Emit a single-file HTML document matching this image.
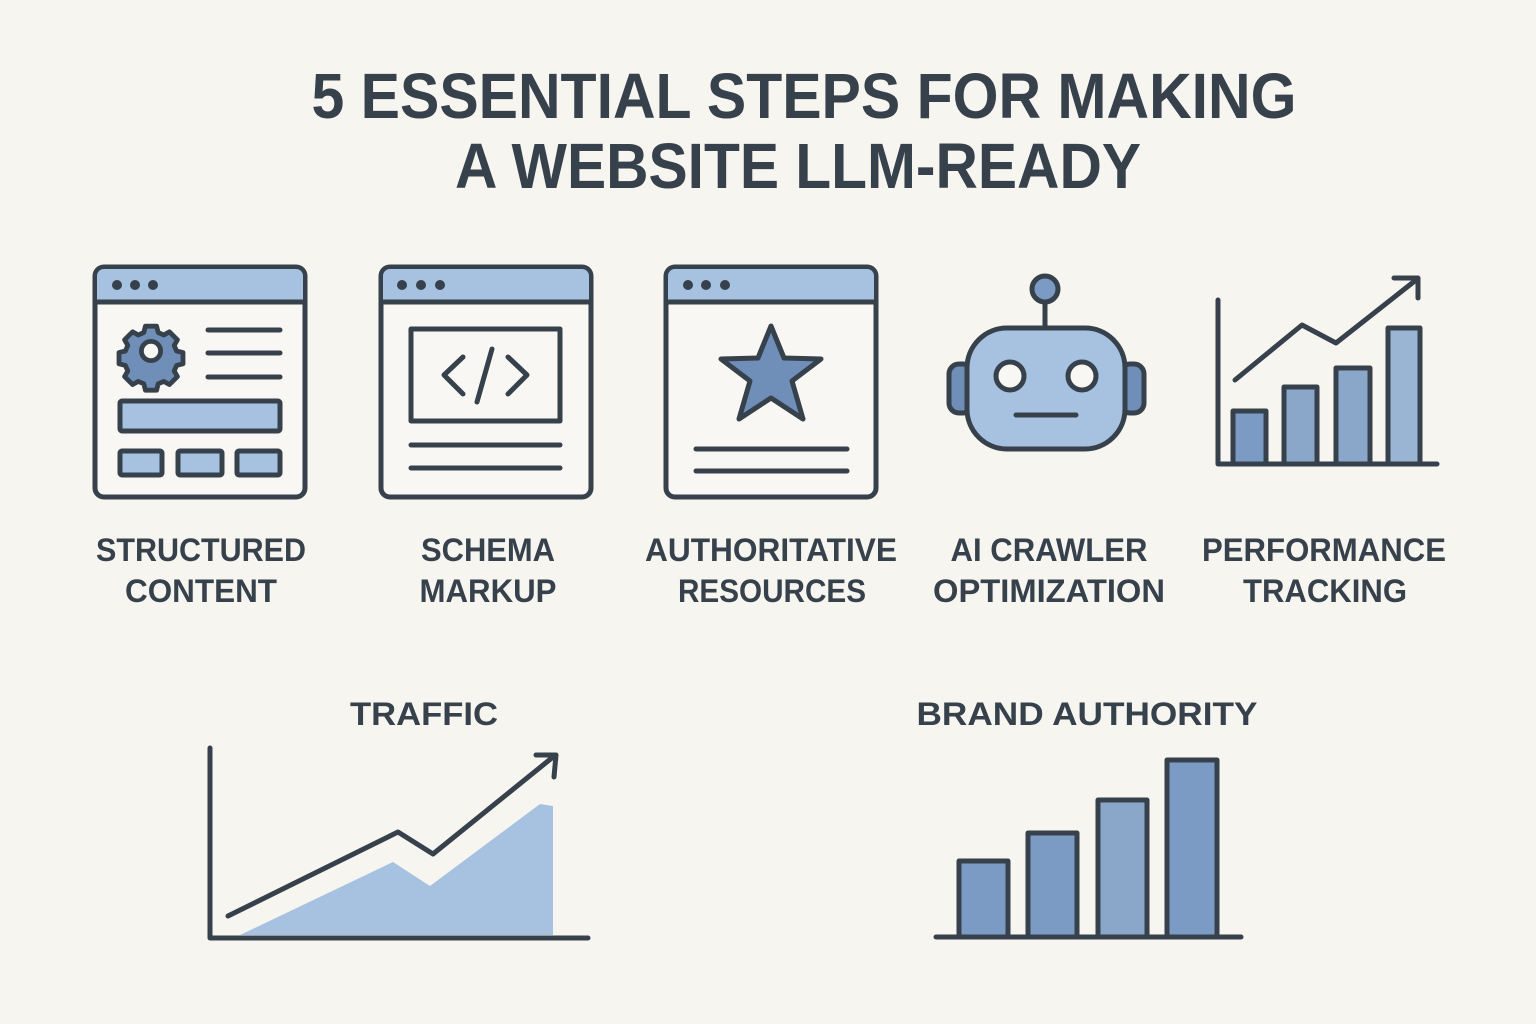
<!DOCTYPE html>
<html><head><meta charset="utf-8"><style>
html,body{margin:0;padding:0;background:#f6f5f0;}
svg{display:block}
text{font-family:"Liberation Sans","DejaVu Sans",sans-serif;font-weight:bold;fill:#36414c;text-anchor:middle}
</style></head><body>
<svg width="1536" height="1024" viewBox="0 0 1536 1024" xmlns="http://www.w3.org/2000/svg">
<rect width="1536" height="1024" fill="#f6f5f0"/>
<text x="804" y="118" font-size="64" textLength="985" lengthAdjust="spacingAndGlyphs">5 ESSENTIAL STEPS FOR MAKING</text>
<text x="798" y="188" font-size="64" textLength="686" lengthAdjust="spacingAndGlyphs">A WEBSITE LLM-READY</text>

<g stroke="#36414c" stroke-width="5" stroke-linecap="round" stroke-linejoin="round">
<!-- window 1 -->
<rect x="95" y="267" width="210" height="230" rx="9" fill="#f8f7f3"/>
<path d="M97 301 V276 a7 7 0 0 1 7 -7 H296 a7 7 0 0 1 7 7 V301 Z" fill="#a6c2e0" stroke="none"/>
<line x1="95" y1="302" x2="305" y2="302"/>
<g fill="#36414c" stroke="none"><circle cx="117" cy="285" r="5"/><circle cx="135" cy="285" r="5"/><circle cx="153" cy="285" r="5"/></g>
<g transform="translate(151,351) scale(0.8)">
<path d="M-7-31h14l2 8 7 3 7-4 10 10-4 7 3 7 8 2v14l-8 2-3 7 4 7-10 10-7-4-7 3-2 8h-14l-2-8-7-3-7 4-10-10 4-7-3-7-8-2v-14l8-2 3-7-4-7 10-10 7 4 7-3z" fill="#6f8fb8" stroke-width="6"/>
<circle r="12" fill="#f8f7f3" stroke-width="6"/>
</g>
<line x1="208" y1="330" x2="280" y2="330"/><line x1="208" y1="353" x2="280" y2="353"/><line x1="208" y1="377" x2="280" y2="377"/>
<rect x="120" y="401" width="160" height="30" rx="2" fill="#a6c2e0"/>
<rect x="120" y="451" width="42" height="24" rx="2" fill="#a6c2e0"/>
<rect x="178" y="451" width="44" height="24" rx="2" fill="#a6c2e0"/>
<rect x="237" y="451" width="43" height="24" rx="2" fill="#a6c2e0"/>

<!-- window 2 -->
<rect x="381" y="267" width="210" height="230" rx="9" fill="#f8f7f3"/>
<path d="M383 301 V276 a7 7 0 0 1 7 -7 H582 a7 7 0 0 1 7 7 V301 Z" fill="#a6c2e0" stroke="none"/>
<line x1="381" y1="302" x2="591" y2="302"/>
<g fill="#36414c" stroke="none"><circle cx="402" cy="285" r="5"/><circle cx="421" cy="285" r="5"/><circle cx="440" cy="285" r="5"/></g>
<rect x="411" y="329" width="149" height="92" fill="#f8f7f3"/>
<polyline points="463,357 444,375 463,394" fill="none"/>
<polyline points="508,357 527,375 508,394" fill="none"/>
<line x1="492" y1="349" x2="477" y2="402"/>
<line x1="411" y1="445" x2="560" y2="445"/><line x1="411" y1="468" x2="560" y2="468"/>

<!-- window 3 -->
<rect x="666" y="267" width="210" height="230" rx="9" fill="#f8f7f3"/>
<path d="M668 301 V276 a7 7 0 0 1 7 -7 H867 a7 7 0 0 1 7 7 V301 Z" fill="#a6c2e0" stroke="none"/>
<line x1="666" y1="302" x2="876" y2="302"/>
<g fill="#36414c" stroke="none"><circle cx="688" cy="285" r="5"/><circle cx="706" cy="285" r="5"/><circle cx="725" cy="285" r="5"/></g>
<polygon points="771,326 784,358 821,359 792,381 803,419 771,398 739,419 750,381 721,359 758,358" fill="#6f8fb8"/>
<line x1="696" y1="449" x2="847" y2="449"/><line x1="696" y1="471" x2="847" y2="471"/>

<!-- robot -->
<line x1="1045" y1="300" x2="1045" y2="328"/>
<circle cx="1045" cy="289" r="13" fill="#7c9bc4"/>
<rect x="949" y="364" width="24" height="49" rx="10" fill="#6f8fb8"/>
<rect x="1120" y="364" width="24" height="49" rx="10" fill="#6f8fb8"/>
<rect x="967" y="328" width="158" height="121" rx="40" fill="#a6c2e0"/>
<circle cx="1010" cy="376" r="14" fill="#f8f7f3"/>
<circle cx="1082" cy="376" r="14" fill="#f8f7f3"/>
<line x1="1016" y1="415" x2="1076" y2="415"/>

<!-- performance chart -->
<rect x="1233" y="411" width="33" height="53" fill="#7c9bc4"/>
<rect x="1284" y="387" width="33" height="77" fill="#8aa6c8"/>
<rect x="1336" y="368" width="34" height="96" fill="#8aa6c8"/>
<rect x="1388" y="328" width="32" height="136" fill="#9ab4d4"/>
<polyline points="1218,300 1218,464 1437,464" fill="none"/>
<polyline points="1235,380 1302,325 1336,343 1416,280" fill="none"/>
<polyline points="1394,278 1418,278 1418,298" fill="none"/>

<!-- traffic chart -->
<polygon points="240,935 393,862 430,886 540,804 553,806 553,935" fill="#a6c2e0" stroke="none"/>
<polyline points="210,748 210,938 588,938" fill="none"/>
<polyline points="228,916 398,832 433,854 553,757" fill="none"/>
<polyline points="536,755 556,755 554,777" fill="none"/>

<!-- brand chart -->
<rect x="959" y="861" width="49" height="76" fill="#7c9bc4"/>
<rect x="1028" y="833" width="49" height="104" fill="#7c9bc4"/>
<rect x="1098" y="800" width="49" height="137" fill="#8aa6c8"/>
<rect x="1167" y="760" width="50" height="177" fill="#7c9bc4"/>
<line x1="936" y1="937" x2="1241" y2="937"/>
</g>

<g font-size="32">
<text x="201" y="561" textLength="210" lengthAdjust="spacingAndGlyphs">STRUCTURED</text>
<text x="201" y="602" textLength="152" lengthAdjust="spacingAndGlyphs">CONTENT</text>
<text x="488" y="561" textLength="134" lengthAdjust="spacingAndGlyphs">SCHEMA</text>
<text x="488" y="602" textLength="137" lengthAdjust="spacingAndGlyphs">MARKUP</text>
<text x="771" y="561" textLength="252" lengthAdjust="spacingAndGlyphs">AUTHORITATIVE</text>
<text x="772" y="602" textLength="188" lengthAdjust="spacingAndGlyphs">RESOURCES</text>
<text x="1049" y="561" textLength="197" lengthAdjust="spacingAndGlyphs">AI CRAWLER</text>
<text x="1049" y="602" textLength="232" lengthAdjust="spacingAndGlyphs">OPTIMIZATION</text>
<text x="1324" y="561" textLength="244" lengthAdjust="spacingAndGlyphs">PERFORMANCE</text>
<text x="1325" y="602" textLength="164" lengthAdjust="spacingAndGlyphs">TRACKING</text>
<text x="424" y="725" textLength="148" lengthAdjust="spacingAndGlyphs">TRAFFIC</text>
<text x="1087" y="725" textLength="341" lengthAdjust="spacingAndGlyphs">BRAND AUTHORITY</text>
</g>
</svg>
</body></html>
